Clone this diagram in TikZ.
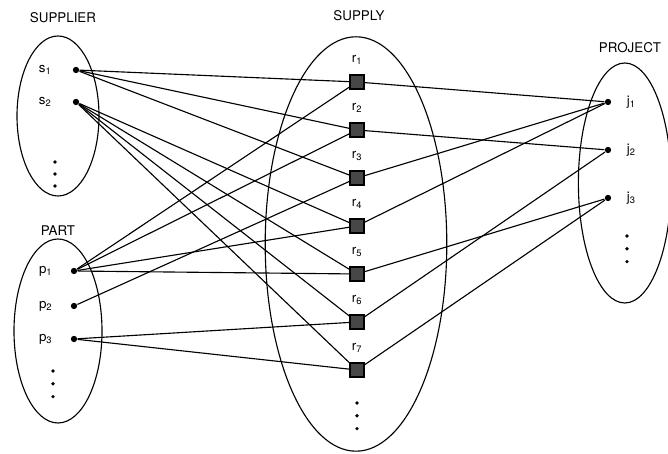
\documentclass[tikz,border=0pt]{standalone}
\usepackage{fontspec}
\setmainfont{TeX Gyre Heros}
\usetikzlibrary{positioning}

\begin{document}
\begin{tikzpicture}[
    line width=0.8pt,
    dot/.style={circle, fill=black, inner sep=0pt, minimum size=4.5pt},
    supbox/.style={rectangle, draw=black, fill=black!72, inner sep=0pt, minimum size=0.35cm},
    settitle/.style={font=\fontsize{9.5}{11}\selectfont},
    elem/.style={font=\fontsize{9.5}{11}\selectfont},
]
    \useasboundingbox (0,0) rectangle (16.7,11.35);

    % The four sets
    \draw (1.45,8.45) ellipse (1.025 and 2.0);
    \draw (1.45,3.075) ellipse (1.1 and 2.3);
    \draw (8.9,5.25) ellipse (2.27 and 5.18);
    \draw (15.62,6.775) ellipse (1.16 and 3.0);
    \node[settitle] (tsup) at (1.575,10.9) {SUPPLIER};
    \node[settitle] (tpart) at (1.45,5.575) {PART};
    \node[settitle] (tsupply) at (8.975,10.95) {SUPPLY};
    \node[settitle] (tproj) at (15.75,10.15) {PROJECT};

    % Suppliers and parts
    \node[dot, label={[elem, label distance=11pt]left:s\textsubscript{1}}] (s1) at (1.9,9.6) {};
    \node[dot, label={[elem, label distance=11pt]left:s\textsubscript{2}}] (s2) at (1.9,8.8) {};
    \node[dot, label={[elem, label distance=9pt]left:p\textsubscript{1}}] (p1) at (1.85,4.575) {};
    \node[dot, label={[elem, label distance=9pt]left:p\textsubscript{2}}] (p2) at (1.85,3.7) {};
    \node[dot, label={[elem, label distance=9pt]left:p\textsubscript{3}}] (p3) at (1.85,2.875) {};

    % Projects
    \node[dot, label={[elem, label distance=7pt]right:j\textsubscript{1}}] (j1) at (15.2,8.8) {};
    \node[dot, label={[elem, label distance=7pt]right:j\textsubscript{2}}] (j2) at (15.2,7.6) {};
    \node[dot, label={[elem, label distance=7pt]right:j\textsubscript{3}}] (j3) at (15.2,6.4) {};

    % Supply records
    \foreach \i in {1,...,7}
        \node[supbox, label={[elem, label distance=3pt]above:r\textsubscript{\i}}] (r\i) at (8.925,{9.3-(\i-1)*1.2}) {};

    % Links
    \foreach \a/\b in {s1/r1, s1/r2, s1/r3, s2/r4, s2/r5, s2/r6, s2/r7,
                       p1/r1, p1/r2, p1/r4, p1/r5, p2/r3, p3/r6, p3/r7,
                       r1/j1, r2/j2, r3/j1, r4/j1, r5/j3, r6/j2, r7/j3}
        \draw (\a) -- (\b);

    % More elements
    \foreach \k in {0,1,2} {
        \fill (1.375,{7.3-\k*0.3}) circle (0.045);
        \fill (1.325,{2.075-\k*0.32}) circle (0.045);
        \fill (8.925,{1.275-\k*0.32}) circle (0.045);
        \fill (15.675,{5.45-\k*0.32}) circle (0.045);
    }
\end{tikzpicture}
\end{document}
